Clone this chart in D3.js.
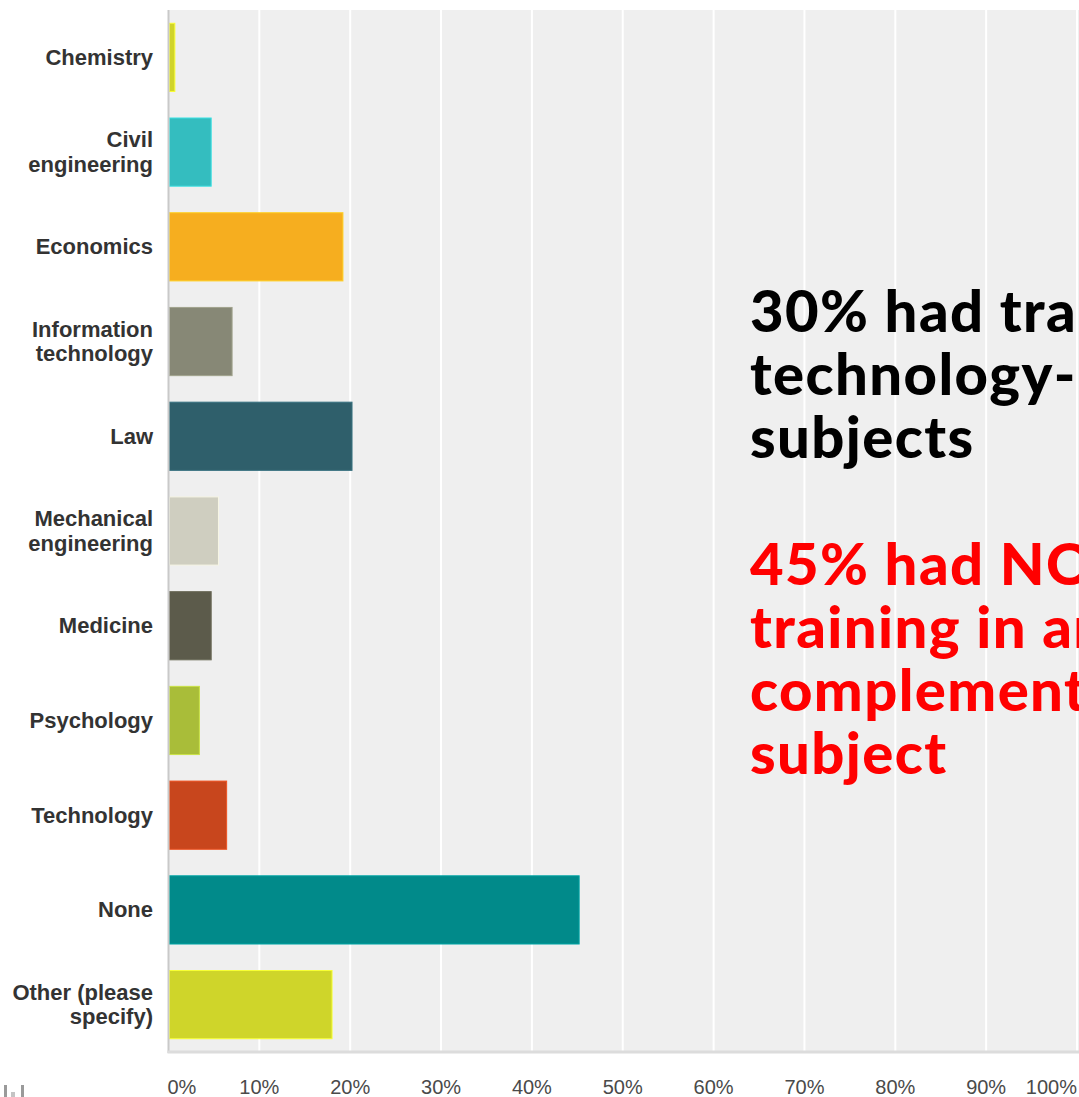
<!DOCTYPE html>
<html>
<head>
<meta charset="utf-8">
<script src="https://cdn.jsdelivr.net/npm/d3@7"></script>
<style>
  html, body { margin: 0; padding: 0; background: #ffffff; }
  svg { display: block; }
</style>
</head>
<body>
<div id="chart"></div>
<script>
// Survey answers: share of respondents per training subject (multiple answers allowed)
const categories = [
  "Chemistry", "Civil engineering", "Economics", "Information technology", "Law",
  "Mechanical engineering", "Medicine", "Psychology", "Technology", "None",
  "Other (please specify)"
];
const values = [0.7, 4.7, 19.2, 7.0, 20.2, 5.5, 4.7, 3.4, 6.4, 45.2, 18.0];
const colors = [
  "#d0d42a", "#34bdbf", "#f6ae1f", "#878876", "#2f5f6b",
  "#cfcec0", "#5c5b4b", "#a9bd39", "#c8461d", "#018a8a", "#cfd52a"
];
const tickValues = [0, 10, 20, 30, 40, 50, 60, 70, 80, 90, 100];
const tickLabels = ["0%", "10%", "20%", "30%", "40%", "50%", "60%", "70%", "80%", "90%", "100%"];

const noteBlack = ["30% had training in", "technology-related", "subjects"];
const noteRed = ["45% had NO", "training in any", "complementary", "subject"];

const W = 1079, H = 1097;
const plot = { left: 168.5, right: 1077, top: 10, bottom: 1052 };

const svg = d3.select("#chart").append("svg")
  .attr("width", W).attr("height", H);

const x = d3.scaleLinear().domain([0, 100]).range([plot.left, plot.right]);
const y = d3.scaleBand().domain(categories)
  .range([plot.top, plot.bottom])
  .paddingInner(0.28).paddingOuter(0.14);

// plot background
svg.append("rect")
  .attr("x", plot.left).attr("y", plot.top)
  .attr("width", W - plot.left).attr("height", plot.bottom - plot.top)
  .attr("fill", "#efefef");

// vertical grid lines
svg.append("g").selectAll("line")
  .data(tickValues.slice(1))
  .join("line")
  .attr("x1", d => x(d)).attr("x2", d => x(d))
  .attr("y1", plot.top).attr("y2", plot.bottom)
  .attr("stroke", "#ffffff").attr("stroke-width", 2);

// bars
svg.append("g").selectAll("rect")
  .data(values)
  .join("rect")
  .attr("x", x(0) + 1)
  .attr("y", (d, i) => y(categories[i]))
  .attr("width", d => x(d) - x(0) - 1)
  .attr("height", y.bandwidth())
  .attr("fill", (d, i) => colors[i])
  .attr("stroke", (d, i) => d3.color(colors[i]).brighter(0.5))
  .attr("stroke-width", 1);

// left axis line and bottom frame
svg.append("line")
  .attr("x1", plot.left).attr("x2", plot.left)
  .attr("y1", plot.top).attr("y2", plot.bottom + 1)
  .attr("stroke", "#c9c9c9").attr("stroke-width", 2);
svg.append("line")
  .attr("x1", plot.left - 1).attr("x2", W)
  .attr("y1", plot.bottom).attr("y2", plot.bottom)
  .attr("stroke", "#dcdcdc").attr("stroke-width", 3);

// category labels, wrapped onto two lines when long
const labels = svg.append("g")
  .attr("font-family", "'Liberation Sans', Arial, sans-serif")
  .attr("font-weight", "bold")
  .attr("font-size", 22)
  .attr("fill", "#333333")
  .attr("text-anchor", "end");

function wrapWords(text, maxW, measure) {
  const words = text.split(" ");
  const lines = [];
  let cur = "";
  words.forEach(w => {
    const t = cur ? cur + " " + w : w;
    if (cur && measure(t) > maxW) { lines.push(cur); cur = w; }
    else cur = t;
  });
  lines.push(cur);
  return lines;
}
const probe = labels.append("text");
const measure = s => { probe.text(s); return probe.node().getComputedTextLength(); };

categories.forEach(c => {
  const lines = wrapWords(c, 150, measure);
  const lh = 24.5;
  const cy = y(c) + y.bandwidth() / 2;
  const first = cy + 7.5 - (lines.length - 1) * lh / 2;
  const t = labels.append("text").attr("x", 153);
  lines.forEach((ln, k) => {
    t.append("tspan").attr("x", 153).attr("y", first + k * lh).text(ln);
  });
});
probe.remove();

// x axis labels: first one starts at the axis, last one ends at the right edge
svg.append("g")
  .attr("font-family", "'Liberation Sans', Arial, sans-serif")
  .attr("font-size", 20)
  .attr("fill", "#4a4a4a")
  .selectAll("text")
  .data(tickValues)
  .join("text")
  .attr("x", (d, i) => i === 0 ? x(d) - 1 : x(d))
  .attr("y", 1094)
  .attr("text-anchor", (d, i) => i === 0 ? "start" : (i === tickValues.length - 1 ? "end" : "middle"))
  .text((d, i) => tickLabels[i]);

// small logo marks in the lower-left corner
const logo = svg.append("g").attr("fill", "#9a9a9a");
logo.append("rect").attr("x", 4).attr("y", 1085).attr("width", 3).attr("height", 12);
logo.append("rect").attr("x", 11).attr("y", 1092).attr("width", 4).attr("height", 5).attr("fill", "#c4c4c4");
logo.append("rect").attr("x", 21).attr("y", 1085).attr("width", 3).attr("height", 12);

// annotation text
const note = svg.append("g")
  .attr("font-family", "Lato, 'Open Sans', sans-serif")
  .attr("font-weight", 900)
  .attr("font-size", 58)
  .attr("letter-spacing", 1.4);
noteBlack.forEach((s, k) => {
  note.append("text").attr("x", 750).attr("y", 332 + k * 63)
    .attr("fill", "#000000").text(s);
});
noteRed.forEach((s, k) => {
  note.append("text").attr("x", 750).attr("y", 585 + k * 63)
    .attr("fill", "#ff0000").text(s);
});
</script>
</body>
</html>
